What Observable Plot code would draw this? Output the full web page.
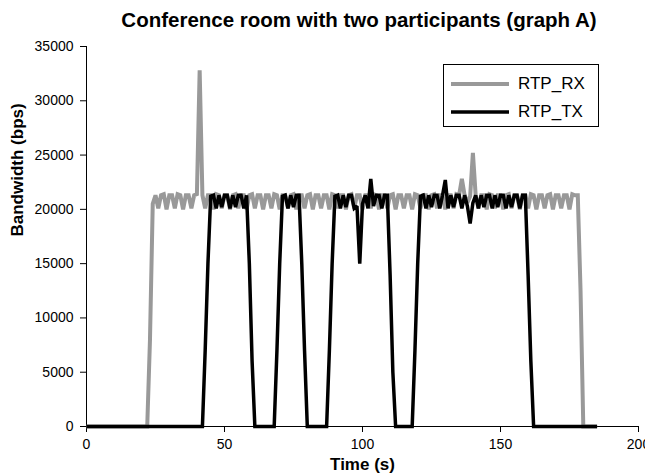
<!DOCTYPE html>
<html>
<head>
<meta charset="utf-8">
<script src="https://cdn.jsdelivr.net/npm/d3@7"></script>
<script src="https://cdn.jsdelivr.net/npm/@observablehq/plot@0.6"></script>
<style>
  html, body { margin: 0; padding: 0; background: #fff; }
  #page { position: relative; width: 645px; height: 475px; font-family: Arial, "Liberation Sans", sans-serif; color: #000; }
  #title { position: absolute; left: 80px; top: 0; width: 558px; height: 40px; line-height: 40px; text-align: center; font-weight: bold; font-size: 20.5px; }
  #chart { position: absolute; left: 0; top: 40px; }
  #legend { position: absolute; left: 443px; top: 64px; width: 156px; height: 63px; border: 1px solid #000; background: #fff; box-sizing: border-box; }
  .lg-row { position: absolute; left: 6px; height: 24px; display: flex; align-items: center; font-size: 17px; }
  .lg-row svg { margin-right: 8px; }
</style>
</head>
<body>
<div id="page">
  <div id="title">Conference room with two participants (graph A)</div>
  <div id="chart"></div>
  <div id="legend"></div>
</div>
<script>
// ---- data (sampled every 1 s, index = time in seconds) ----
const seriesNames = ["RTP_RX", "RTP_TX"];
const seriesColors = ["#999999", "#000000"];
const sampleStepSeconds = 1;

const rxBandwidth = [
  0,0,0,0,0,0,0,0,0,0,
  0,0,0,0,0,0,0,0,0,0,
  0,0,0,8000,20500,21300,20100,21300,21400,20000,
  21300,21300,20100,21400,21300,20000,21300,21300,20100,21300,
  21400,32800,21300,20100,21300,21300,20000,21400,21300,20100,
  21300,21300,20000,21300,21400,20100,21300,21300,20000,21300,
  21400,20100,21300,21300,20000,21300,21300,20100,21400,21300,
  20000,21300,21300,20100,21300,21400,20000,21300,21300,20100,
  21300,21400,20000,21300,21300,20100,21300,21300,20000,21400,
  21300,20100,21300,21300,20000,21300,21400,20100,21300,21300,
  20000,21300,21300,20100,21400,21300,20000,21300,21300,20100,
  21300,21400,20000,21300,21300,20100,21300,21300,20000,21400,
  21300,20100,21300,21300,20000,21300,21400,20100,21300,21300,
  20000,21300,21300,20100,21400,21300,22800,21300,20600,21200,
  25200,21300,20100,21300,21300,20000,21400,21300,20100,21300,
  21300,20000,21300,21400,20100,21300,21300,20000,21300,21300,
  20100,21400,21300,20000,21300,21300,20100,21300,21400,20000,
  21300,21300,20100,21300,21300,20000,21400,21300,21300,12500,
  0,0,0,0,0,0
];

const txBandwidth = [
  0,0,0,0,0,0,0,0,0,0,
  0,0,0,0,0,0,0,0,0,0,
  0,0,0,0,0,0,0,0,0,0,
  0,0,0,0,0,0,0,0,0,0,
  0,0,0,7000,15000,21200,21300,20100,21300,20200,
  21300,21300,20100,21300,20200,21300,21300,20100,21300,15000,
  6000,0,0,0,0,0,0,0,0,7000,
  15000,21200,21300,20100,21300,20200,21300,21300,15000,7000,
  0,0,0,0,0,0,0,0,7000,15000,
  21200,21300,20100,21300,20200,21300,21300,20100,20300,15000,
  20500,21300,20100,22800,20300,21300,21300,20100,21300,21300,
  14000,5000,0,0,0,0,0,0,0,7000,
  15000,21200,21300,20100,21300,20200,21300,21300,20100,21300,
  22700,20100,21300,20200,21300,21300,20100,21300,20300,18700,
  20600,21300,20100,21300,20200,21300,21300,20100,21300,20200,
  21300,21300,20100,21300,20200,21300,21300,20100,21300,21300,
  14000,6000,0,0,0,0,0,0,0,0,
  0,0,0,0,0,0,0,0,0,0,
  0,0,0,0,0,0
];

const xTicks = [0, 50, 100, 150, 200];
const yTicks = [0, 5000, 10000, 15000, 20000, 25000, 30000, 35000];
const xLabel = "Time (s)";
const yLabel = "Bandwidth (bps)";

// ---- build rows ----
const rxRows = rxBandwidth.map((v, i) => ({ time: i * sampleStepSeconds, value: v }));
const txRows = txBandwidth.map((v, i) => ({ time: i * sampleStepSeconds, value: v }));

const chart = Plot.plot({
  width: 645,
  height: 435,
  marginLeft: 86,
  marginRight: 7,
  marginTop: 6,
  marginBottom: 49,
  style: { fontFamily: "Arial, 'Liberation Sans', sans-serif", fontSize: "14px", color: "#000", background: "#fff", overflow: "visible" },
  x: { domain: [0, 200], ticks: xTicks, tickSize: 6, tickPadding: 7, label: null, tickFormat: d => String(d) },
  y: { domain: [0, 35000], ticks: yTicks, tickSize: 6, tickPadding: 7, label: null, tickFormat: d => String(d) },
  marks: [
    Plot.ruleX([0], { stroke: "#000", strokeWidth: 1 }),
    Plot.ruleY([0], { stroke: "#000", strokeWidth: 1 }),
    Plot.line(rxRows, { x: "time", y: "value", stroke: seriesColors[0], strokeWidth: 4, strokeLinejoin: "miter", strokeMiterlimit: 2, strokeLinecap: "butt" }),
    Plot.line(txRows, { x: "time", y: "value", stroke: seriesColors[1], strokeWidth: 3.5, strokeLinejoin: "miter", strokeMiterlimit: 2, strokeLinecap: "butt" }),
    Plot.text([xLabel], { frameAnchor: "bottom", dy: 43, fontWeight: "bold", fontSize: 17 }),
    Plot.text([yLabel], { frameAnchor: "left", dx: -69, rotate: -90, fontWeight: "bold", fontSize: 17 })
  ]
});
document.getElementById("chart").appendChild(chart);

// ---- legend ----
const legend = document.getElementById("legend");
seriesNames.forEach((name, i) => {
  const row = document.createElement("div");
  row.className = "lg-row";
  row.style.top = (i === 0 ? 7 : 35) + "px";
  const sw = i === 0 ? 4 : 3.5;
  row.innerHTML = `<svg width="60" height="10"><line x1="1" x2="59" y1="5" y2="5" stroke="${seriesColors[i]}" stroke-width="${sw}"/></svg><span>${name}</span>`;
  legend.appendChild(row);
});
</script>
</body>
</html>
